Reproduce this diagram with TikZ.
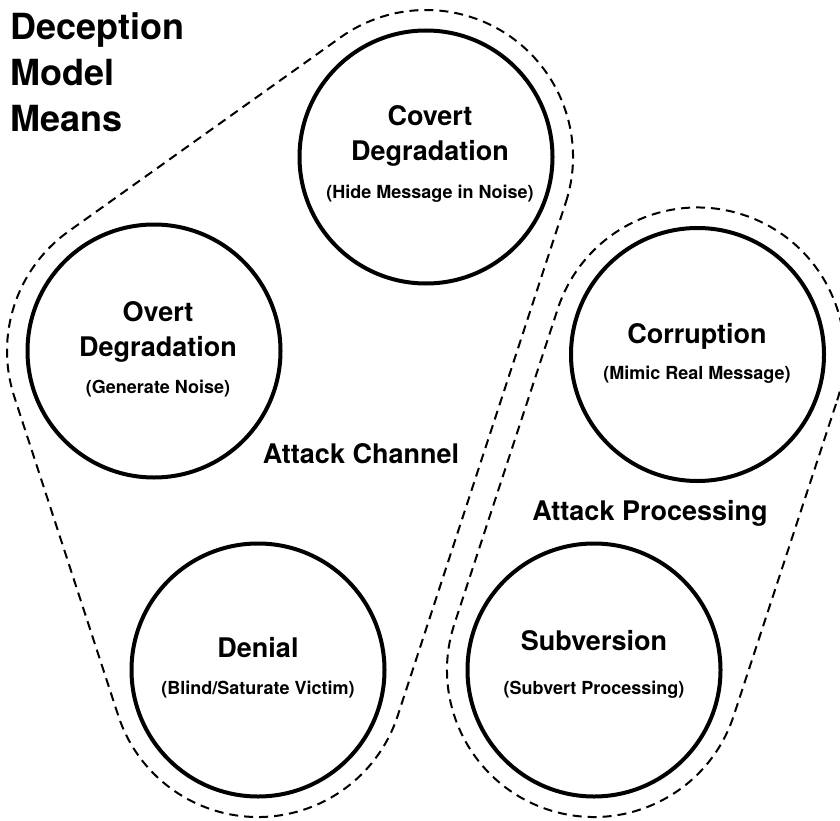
\documentclass[tikz,border=0pt]{standalone}
\usepackage{fontspec}
\setmainfont{TeX Gyre Heros}
\usetikzlibrary{calc}
\begin{document}
\begin{tikzpicture}[x=1pt,y=-1pt,
  means/.style={circle,draw=black,line width=4pt,minimum size=253pt,inner sep=0pt},
  headtxt/.style={anchor=base,inner sep=0pt,font=\fontsize{27}{32}\selectfont\bfseries},
  subtxt/.style={anchor=base,inner sep=0pt,font=\fontsize{18}{22}\selectfont\bfseries},
  grouptxt/.style={anchor=base,inner sep=0pt,font=\fontsize{27}{32}\selectfont\bfseries},
  titletxt/.style={anchor=base west,inner sep=0pt,font=\fontsize{36}{46}\selectfont\bfseries},
  hull/.style={draw=black,line width=2pt,dash pattern=on 9pt off 6pt}]
  \fill[white] (0,0) rectangle (840,821);
  \useasboundingbox (0,0) rectangle (840,821);

  % title
  \node[titletxt] (t1) at (10,40) {Deception};
  \node[titletxt] (t2) at (10,86) {Model};
  \node[titletxt] (t3) at (10,132) {Means};

  % the five means
  \node[means] (cov) at (426,157) {};
  \node[means] (ovt) at (154,351) {};
  \node[means] (den) at (258,670) {};
  \node[means] (cor) at (697.5,354.5) {};
  \node[means] (sub) at (594,670) {};

  % circle captions
  \node[headtxt] (covA) at (430,126) {Covert};
  \node[headtxt] (covB) at (430,161) {Degradation};
  \node[subtxt]  (covC) at (430,198) {(Hide Message in Noise)};

  \node[headtxt] (ovtA) at (158,321) {Overt};
  \node[headtxt] (ovtB) at (158,356) {Degradation};
  \node[subtxt]  (ovtC) at (158,393) {(Generate Noise)};

  \node[headtxt] (denA) at (258,657) {Denial};
  \node[subtxt]  (denC) at (258,694) {(Blind/Saturate Victim)};

  \node[headtxt] (corA) at (697,343) {Corruption};
  \node[subtxt]  (corC) at (697,379) {(Mimic Real Message)};

  \node[headtxt] (subA) at (594,650) {Subversion};
  \node[subtxt]  (subC) at (594,694) {(Subvert Processing)};

  % group labels
  \node[grouptxt] (gch) at (361,463) {Attack Channel};
  \node[grouptxt] (gpr) at (650,520) {Attack Processing};

  % dashed envelopes
  \draw[hull] ($(cov.center)+(18.13:147)$) arc[start angle=18.13,end angle=-125.5,radius=147]
    -- ($(ovt.center)+(234.5:147)$) arc[start angle=234.5,end angle=161.9,radius=147]
    -- ($(den.center)+(161.9:147)$) arc[start angle=161.9,end angle=18.13,radius=147]
    -- cycle;
  \draw[hull] ($(cor.center)+(18.16:147)$) arc[start angle=18.16,end angle=-161.84,radius=147]
    -- ($(sub.center)+(198.16:147)$) arc[start angle=198.16,end angle=18.16,radius=147]
    -- cycle;
\end{tikzpicture}
\end{document}
